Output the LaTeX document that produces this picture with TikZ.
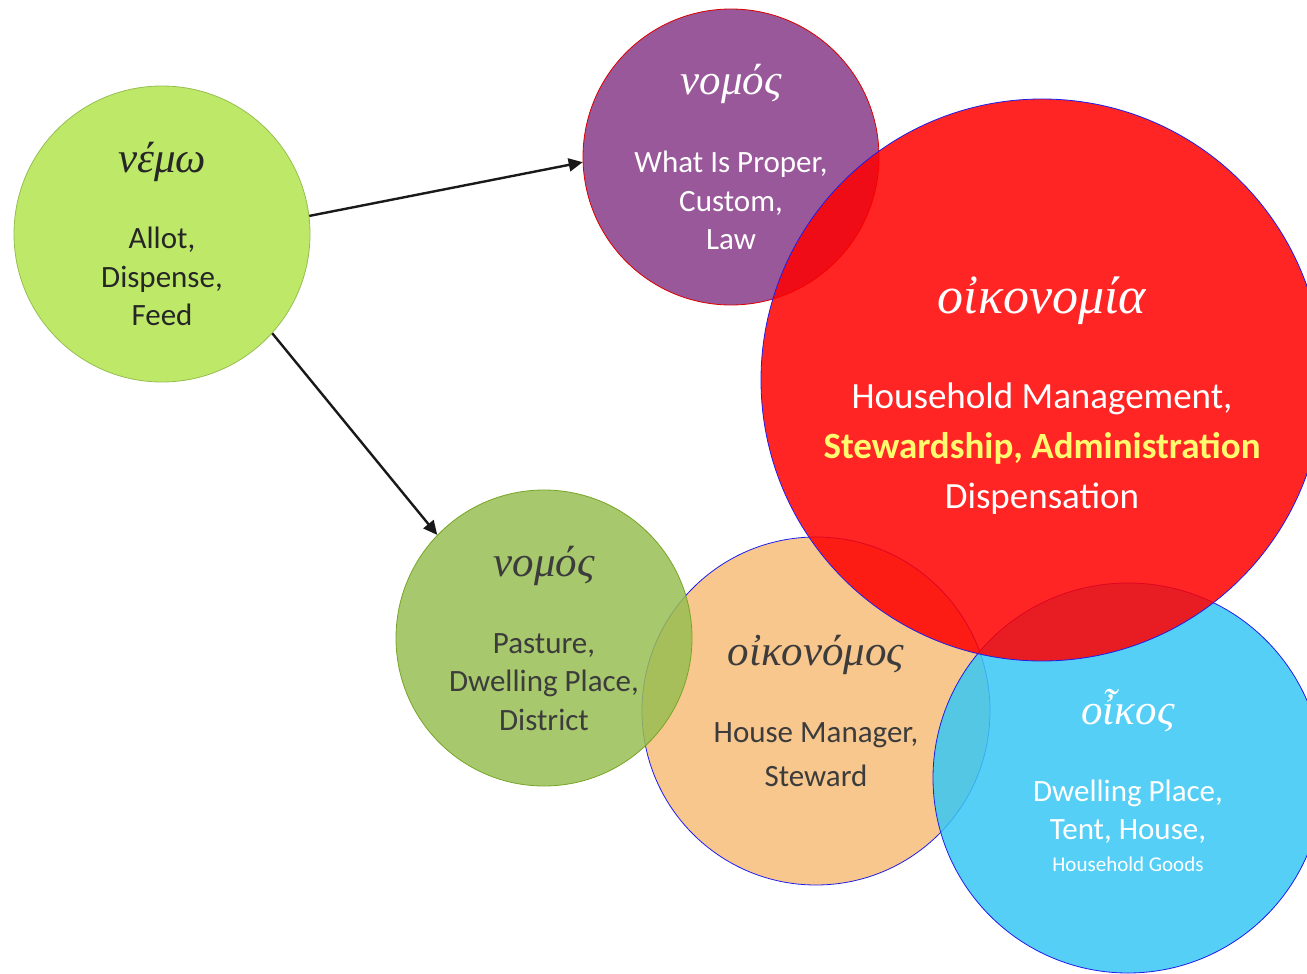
\documentclass[tikz,border=0pt]{standalone}
\usepackage{fontspec}
\setmainfont{Carlito}
\newfontfamily\grk[Script=Greek]{Liberation Serif}
\usetikzlibrary{arrows.meta}

\definecolor{nemoFill}{RGB}{190,233,104}
\definecolor{nemoLine}{RGB}{150,190,80}
\definecolor{lawFill}{RGB}{153,88,153}
\definecolor{pastureFill}{RGB}{152,190,82}
\definecolor{pastureLine}{RGB}{120,165,40}
\definecolor{managerFill}{RGB}{248,199,141}
\definecolor{houseFill}{RGB}{56,199,245}
\definecolor{economyFill}{RGB}{255,0,0}
\definecolor{edgeBlue}{RGB}{30,30,235}
\definecolor{darkText}{RGB}{60,60,60}
\definecolor{stewardYellow}{RGB}{255,250,110}

\begin{document}
\begin{tikzpicture}[
  x=0.5pt,y=-0.5pt,
  every node/.style={
    circle,
    inner sep=0pt,
    align=center,
    font=\fontsize{15.5}{19.25}\selectfont,
  },
  arrow/.style={draw,line width=1.2pt,color=black!90,-{Triangle[length=7pt,width=6.5pt]}},
]
\useasboundingbox (0,0) rectangle (1307,974);

\node[fill=nemoFill,draw=nemoLine,minimum size=148pt,text=black!85] at (162,234) (nemo)
  {{\grk\itshape\fontsize{21.5}{21.5}\selectfont νέμω}\\[18.75pt]Allot,\\Dispense,\\Feed};
\node[fill=lawFill,draw=red!85!black,minimum size=148pt,text=white] at (731,157) (nomosLaw)
  {{\grk\itshape\fontsize{21.5}{21.5}\selectfont νομός}\\[19.75pt]What Is Proper,\\Custom,\\Law};
\node[fill=managerFill,draw=edgeBlue,minimum size=174pt,text=darkText] at (816,711) (oikonomos)
  {{\grk\itshape\fontsize{21.5}{21.5}\selectfont οἰκονόμος}\\[19.5pt]House Manager,\\[2.75pt]Steward};
\node[fill=pastureFill,fill opacity=0.85,draw=pastureLine,minimum size=148pt,text=darkText,text opacity=1] at (544,638) (nomosPasture)
  {{\grk\itshape\fontsize{21.5}{21.5}\selectfont νομός}\\[19.25pt]Pasture,\\Dwelling Place,\\District};
\node[fill=houseFill,fill opacity=0.85,draw=edgeBlue,minimum size=195pt,text=white,text opacity=1] at (1128,778) (oikos)
  {\rule{0pt}{20pt}{\grk\itshape\fontsize{21.5}{21.5}\selectfont οἶκος}\\[19pt]Dwelling Place,\\Tent, House,\\[-3.5pt]{\fontsize{10.5}{12}\selectfont Household Goods}};
\node[fill=economyFill,fill opacity=0.855,draw=edgeBlue,minimum size=281pt,text=white,text opacity=1,
  font=\fontsize{18.5}{25}\selectfont] at (1042,380) (oikonomia)
  {\rule{0pt}{34pt}{\grk\itshape\fontsize{26}{26}\selectfont οἰκονομία}\\[22.5pt]Household Management,\\
   {\bfseries\color{stewardYellow}Stewardship, Administration}\\Dispensation};

\path[arrow] (nemo.7) -- (nomosLaw.182);
\path[arrow] (nemo.-42) -- (nomosPasture.136);
\end{tikzpicture}
\end{document}
